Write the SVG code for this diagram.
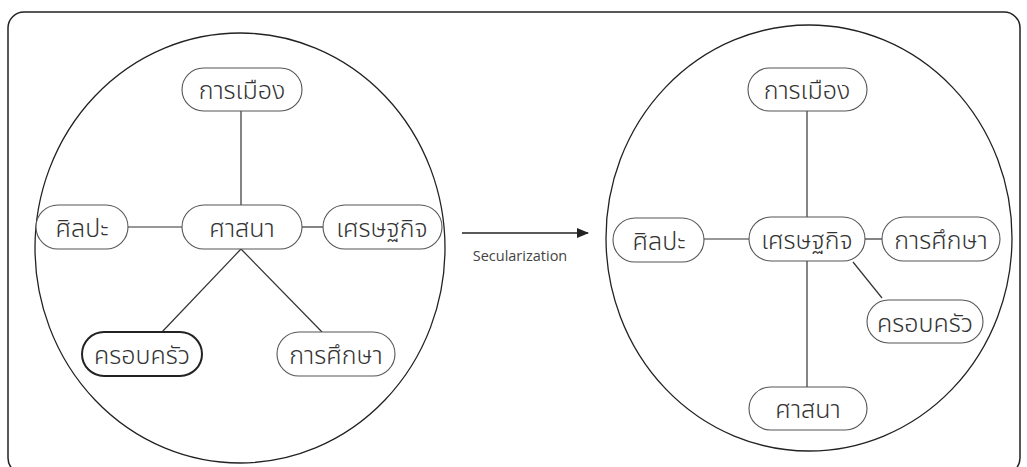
<svg xmlns="http://www.w3.org/2000/svg" width="1027" height="467" viewBox="0 0 1027 467">
<defs>
<style>
.frame{fill:none;stroke:#222;stroke-width:1.5}
.circ{fill:none;stroke:#222;stroke-width:1.3}
.node rect{fill:#fff;stroke:#555;stroke-width:1.1}
.node.bold rect{stroke:#222;stroke-width:2}
.node text{font-family:"Noto Sans","Noto Sans Thai","DejaVu Sans",sans-serif;font-size:25px;font-weight:300;fill:#333;text-anchor:middle;dominant-baseline:central}
.conn line{stroke:#333;stroke-width:1.2}
.lbl{font-family:"Open Sans","Noto Sans",sans-serif;font-size:14.5px;fill:#444}
</style>
<marker id="ah" markerWidth="12" markerHeight="10" refX="11" refY="5" orient="auto" markerUnits="userSpaceOnUse">
<path d="M0,0 L12,5 L0,10 Z" fill="#222"/>
</marker>
</defs>
<rect class="frame" x="8" y="12" width="1012" height="462" rx="16"/>
<ellipse class="circ" cx="240" cy="248" rx="205" ry="215"/>
<ellipse class="circ" cx="809" cy="238" rx="203" ry="213"/>
<g class="conn">
<line x1="241" y1="111" x2="241" y2="205"/>
<line x1="128" y1="227" x2="182" y2="227"/>
<line x1="302" y1="227" x2="323" y2="227"/>
<line x1="241" y1="249" x2="162" y2="332"/>
<line x1="241" y1="249" x2="322" y2="332"/>
<line x1="807" y1="111" x2="807" y2="217"/>
<line x1="807" y1="261" x2="807" y2="387"/>
<line x1="704" y1="239" x2="749" y2="239"/>
<line x1="865" y1="239" x2="882" y2="239"/>
<line x1="853" y1="262" x2="882" y2="298"/>
<line x1="462" y1="233" x2="588" y2="233" marker-end="url(#ah)" style="stroke:#222;stroke-width:1.5"/>
</g>
<text class="lbl" x="520" y="261" text-anchor="middle">Secularization</text>
<g id="l-politics" class="node"><rect x="182" y="68" width="120" height="43" rx="21.5"/><text x="242" y="89">การเมือง</text></g>
<g id="l-art" class="node"><rect x="36" y="205" width="92" height="44" rx="22"/><text x="82" y="227">ศิลปะ</text></g>
<g id="l-religion" class="node"><rect x="182" y="205" width="120" height="44" rx="22"/><text x="242" y="227">ศาสนา</text></g>
<g id="l-economy" class="node"><rect x="323" y="205" width="119" height="44" rx="22"/><text x="382" y="227">เศรษฐกิจ</text></g>
<g id="l-family" class="node bold"><rect x="82" y="332" width="120" height="44" rx="22"/><text x="142" y="354">ครอบครัว</text></g>
<g id="l-education" class="node"><rect x="277" y="332" width="118" height="44" rx="22"/><text x="336" y="354">การศึกษา</text></g>
<g id="r-politics" class="node"><rect x="748" y="68" width="119" height="43" rx="21.5"/><text x="807" y="89">การเมือง</text></g>
<g id="r-art" class="node"><rect x="613" y="218" width="91" height="44" rx="22"/><text x="659" y="240">ศิลปะ</text></g>
<g id="r-economy" class="node"><rect x="749" y="217" width="116" height="44" rx="22"/><text x="807" y="239">เศรษฐกิจ</text></g>
<g id="r-education" class="node"><rect x="882" y="217" width="118" height="44" rx="22"/><text x="941" y="239">การศึกษา</text></g>
<g id="r-family" class="node"><rect x="867" y="300" width="116" height="43" rx="21.5"/><text x="925" y="322">ครอบครัว</text></g>
<g id="r-religion" class="node"><rect x="749" y="387" width="118" height="43" rx="21.5"/><text x="808" y="408">ศาสนา</text></g>
</svg>
